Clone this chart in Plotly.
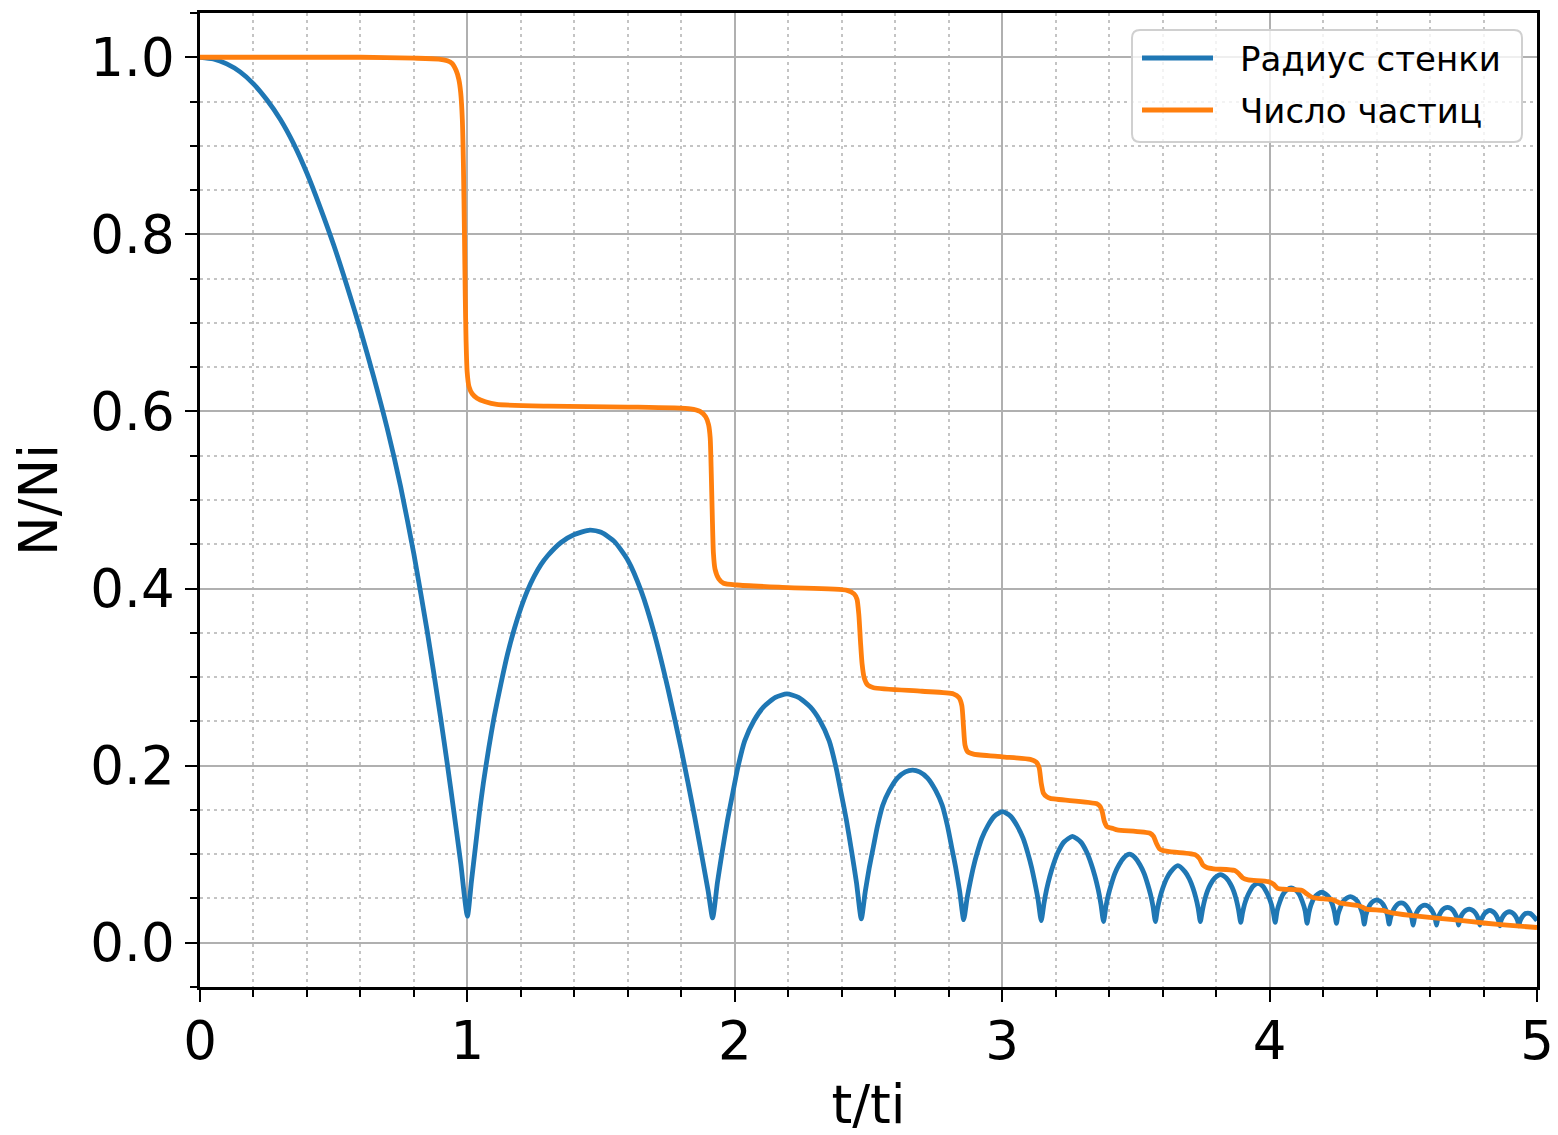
import plotly.graph_objects as go

# Wall radius (normalised) versus normalised time, one row per arch
wall_t = [
    0.000, 0.050, 0.100, 0.150, 0.200, 0.250, 0.300, 0.350, 0.400, 0.450, 0.500, 0.550, 0.600, 0.650, 0.700, 0.750, 0.800, 0.850, 0.900, 0.925, 0.950, 0.975, 1.000,
    1.015, 1.030, 1.045, 1.060, 1.080, 1.100, 1.125, 1.150, 1.175, 1.200, 1.225, 1.250, 1.275, 1.300, 1.350, 1.400, 1.458, 1.500, 1.550, 1.600, 1.650, 1.700, 1.750, 1.800, 1.850, 1.900, 1.917,
    1.935, 1.953, 1.973, 1.993, 2.010, 2.037, 2.072, 2.107, 2.152, 2.195, 2.238, 2.283, 2.318, 2.353, 2.380, 2.397, 2.417, 2.437, 2.455, 2.473,
    2.488, 2.503, 2.518, 2.533, 2.553, 2.578, 2.608, 2.638, 2.665, 2.691, 2.721, 2.751, 2.776, 2.796, 2.811, 2.826, 2.841, 2.856,
    2.868, 2.880, 2.892, 2.906, 2.924, 2.946, 2.971, 3.001, 3.031, 3.056, 3.078, 3.096, 3.110, 3.122, 3.134, 3.146,
    3.156, 3.166, 3.178, 3.192, 3.210, 3.232, 3.2625, 3.293, 3.315, 3.333, 3.347, 3.359, 3.369, 3.379,
    3.388, 3.397, 3.408, 3.421, 3.437, 3.455, 3.476, 3.497, 3.515, 3.531, 3.544, 3.555, 3.564, 3.573,
    3.581, 3.590, 3.601, 3.614, 3.630, 3.657, 3.684, 3.700, 3.713, 3.724, 3.733, 3.741,
    3.749, 3.757, 3.767, 3.779, 3.795, 3.8165, 3.838, 3.854, 3.866, 3.876, 3.884, 3.892,
    3.899, 3.906, 3.915, 3.926, 3.939, 3.9565, 3.974, 3.987, 3.998, 4.007, 4.014, 4.021,
    4.028, 4.038, 4.051, 4.066, 4.0805, 4.095, 4.110, 4.123, 4.133, 4.140,
    4.147, 4.155, 4.167, 4.181, 4.195, 4.209, 4.223, 4.235, 4.243, 4.250,
    4.256, 4.265, 4.276, 4.289, 4.302, 4.315, 4.328, 4.339, 4.348, 4.354,
    4.360, 4.367, 4.377, 4.389, 4.4005, 4.412, 4.424, 4.434, 4.441, 4.447,
    4.453, 4.460, 4.470, 4.481, 4.492, 4.503, 4.514, 4.524, 4.531, 4.537,
    4.542, 4.549, 4.559, 4.570, 4.5805, 4.591, 4.602, 4.612, 4.619, 4.624,
    4.629, 4.636, 4.645, 4.655, 4.6655, 4.676, 4.686, 4.695, 4.702, 4.707,
    4.712, 4.718, 4.727, 4.737, 4.7465, 4.756, 4.766, 4.775, 4.781, 4.786,
    4.790, 4.797, 4.805, 4.814, 4.8235, 4.833, 4.842, 4.850, 4.856, 4.861,
    4.865, 4.871, 4.879, 4.888, 4.8965, 4.905, 4.914, 4.922, 4.928, 4.932,
    4.936, 4.942, 4.949, 4.957, 4.966, 4.975, 4.983, 4.992, 5.000,
]
wall_r = [
    1.000, 0.998, 0.9925, 0.9835, 0.970, 0.952, 0.930, 0.9025, 0.869, 0.830, 0.788, 0.7415, 0.692, 0.6385, 0.581, 0.5155, 0.4387, 0.3512, 0.2537, 0.2015, 0.1467, 0.090, 0.030,
    0.069, 0.108, 0.147, 0.181, 0.220, 0.255, 0.292, 0.326, 0.354, 0.378, 0.398, 0.414, 0.427, 0.437, 0.452, 0.461, 0.466, 0.4635, 0.453, 0.432, 0.397, 0.348, 0.287, 0.218, 0.142, 0.059, 0.028,
    0.068, 0.103, 0.139, 0.170, 0.196, 0.228, 0.251, 0.266, 0.277, 0.281, 0.277, 0.266, 0.251, 0.228, 0.196, 0.170, 0.139, 0.103, 0.068, 0.027,
    0.058, 0.085, 0.108, 0.131, 0.155, 0.172, 0.186, 0.193, 0.195, 0.193, 0.186, 0.172, 0.155, 0.131, 0.108, 0.085, 0.058, 0.026,
    0.049, 0.068, 0.085, 0.101, 0.118, 0.132, 0.143, 0.148, 0.143, 0.132, 0.118, 0.101, 0.085, 0.068, 0.049, 0.025,
    0.044, 0.060, 0.075, 0.089, 0.103, 0.114, 0.120, 0.114, 0.103, 0.089, 0.075, 0.060, 0.044, 0.024,
    0.041, 0.054, 0.066, 0.078, 0.088, 0.096, 0.100, 0.096, 0.088, 0.078, 0.066, 0.054, 0.041, 0.024,
    0.039, 0.051, 0.062, 0.072, 0.080, 0.087, 0.080, 0.072, 0.062, 0.051, 0.039, 0.024,
    0.037, 0.048, 0.058, 0.066, 0.073, 0.077, 0.073, 0.066, 0.058, 0.048, 0.037, 0.023,
    0.034, 0.043, 0.051, 0.058, 0.064, 0.067, 0.064, 0.058, 0.051, 0.043, 0.034, 0.023,
    0.036, 0.046, 0.055, 0.060, 0.062, 0.060, 0.055, 0.046, 0.036, 0.022,
    0.034, 0.043, 0.051, 0.055, 0.057, 0.055, 0.051, 0.043, 0.034, 0.022,
    0.032, 0.040, 0.047, 0.0505, 0.052, 0.0505, 0.047, 0.040, 0.032, 0.021,
    0.031, 0.0375, 0.0435, 0.047, 0.0485, 0.047, 0.0435, 0.0375, 0.031, 0.021,
    0.029, 0.035, 0.0405, 0.044, 0.045, 0.044, 0.0405, 0.035, 0.029, 0.020,
    0.028, 0.0335, 0.0385, 0.0415, 0.0425, 0.0415, 0.0385, 0.0335, 0.028, 0.020,
    0.027, 0.032, 0.0365, 0.039, 0.040, 0.039, 0.0365, 0.032, 0.027, 0.020,
    0.0265, 0.031, 0.0348, 0.037, 0.038, 0.037, 0.0348, 0.031, 0.0265, 0.020,
    0.025, 0.0295, 0.0333, 0.0355, 0.0365, 0.0355, 0.0333, 0.0295, 0.025, 0.019,
    0.0245, 0.0288, 0.0322, 0.0342, 0.035, 0.0342, 0.0322, 0.0288, 0.0245, 0.019,
    0.024, 0.028, 0.031, 0.033, 0.0335, 0.033, 0.031, 0.028, 0.025,
]

# Particle number (normalised) versus normalised time
part_t = [
    0.000, 0.300, 0.600, 0.800, 0.893, 0.925, 0.943, 0.958, 0.968, 0.975,
    0.981, 0.985, 0.989, 0.992, 0.995, 0.999, 1.006, 1.018, 1.036, 1.067,
    1.110, 1.300, 1.600, 1.834, 1.870, 1.891, 1.902, 1.908, 1.912, 1.916,
    1.920, 1.926, 1.940, 1.958, 2.008, 2.200, 2.420, 2.446, 2.457, 2.464,
    2.470, 2.476, 2.484, 2.497, 2.519, 2.700, 2.818, 2.838, 2.849, 2.855,
    2.861, 2.870, 2.893, 3.000, 3.105, 3.127, 3.138, 3.146, 3.154, 3.166,
    3.180, 3.354, 3.366, 3.374, 3.382, 3.392, 3.415, 3.430, 3.553, 3.566,
    3.577, 3.588, 3.602, 3.625, 3.721, 3.738, 3.750, 3.765, 3.790, 3.870,
    3.885, 3.900, 3.920, 3.995, 4.015, 4.030, 4.050, 4.122, 4.140, 4.157,
    4.180, 4.232, 4.248, 4.262, 4.330, 4.348, 4.362, 4.424, 4.440, 4.462,
    4.562, 4.686, 4.810, 4.900, 5.000,
]
part_n = [
    1.000, 1.000, 1.000, 0.999, 0.998, 0.996, 0.993, 0.985, 0.975, 0.960,
    0.930, 0.880, 0.800, 0.730, 0.680, 0.645, 0.628, 0.620, 0.615, 0.611,
    0.608, 0.606, 0.605, 0.603, 0.600, 0.594, 0.585, 0.570, 0.530, 0.480,
    0.440, 0.422, 0.411, 0.406, 0.404, 0.401, 0.398, 0.394, 0.388, 0.370,
    0.340, 0.315, 0.299, 0.291, 0.288, 0.284, 0.281, 0.277, 0.268, 0.245,
    0.223, 0.216, 0.213, 0.210, 0.207, 0.204, 0.198, 0.180, 0.169, 0.165,
    0.163, 0.157, 0.154, 0.148, 0.137, 0.131, 0.129, 0.1275, 0.1237, 0.120,
    0.112, 0.106, 0.104, 0.103, 0.0995, 0.095, 0.088, 0.085, 0.0835, 0.0815,
    0.078, 0.073, 0.071, 0.069, 0.066, 0.0615, 0.0605, 0.059, 0.055, 0.0515,
    0.050, 0.049, 0.047, 0.045, 0.042, 0.040, 0.038, 0.0365, 0.035, 0.0335,
    0.0297, 0.0260, 0.0220, 0.0195, 0.0172,
]

x_ticks = [0, 1, 2, 3, 4, 5]
y_ticks = [0.0, 0.2, 0.4, 0.6, 0.8, 1.0]
series_names = ["Радиус стенки", "Число частиц"]

FONT = "DejaVu Sans"
BLUE = "#1f77b4"
ORANGE = "#ff7f0e"
LINE_W = 4.8

assert len(wall_t) == len(wall_r)
assert len(part_t) == len(part_n)

fig = go.Figure()
fig.add_trace(go.Scatter(
    x=wall_t, y=wall_r, mode="lines", name=series_names[0], showlegend=False,
    line=dict(color=BLUE, width=LINE_W, shape="spline", smoothing=0.6, simplify=False),
))
fig.add_trace(go.Scatter(
    x=part_t, y=part_n, mode="lines", name=series_names[1], showlegend=False,
    line=dict(color=ORANGE, width=LINE_W, shape="spline", smoothing=0.6, simplify=False),
))

axis_style = dict(
    showline=True, linecolor="black", linewidth=2.5, mirror=True,
    ticks="outside", ticklen=12, tickwidth=2.2, tickcolor="black",
    showgrid=True, gridcolor="#b0b0b0", gridwidth=2, zeroline=False,
    tickfont=dict(family=FONT, size=53, color="black"),
    title_font=dict(family=FONT, size=53, color="black"),
)
minor_style = dict(ticks="outside", ticklen=7, tickwidth=1.8, tickcolor="black",
                   showgrid=True, gridcolor="#c4c4c4", gridwidth=1.5,
                   griddash="3px,4px")

fig.update_xaxes(
    **axis_style,
    range=[0, 5], tickvals=x_ticks, ticktext=[str(v) for v in x_ticks],
    ticklabelstandoff=-6,
    title=dict(text="t/ti", standoff=22),
    minor=dict(dtick=0.2, tick0=0, **minor_style),
)
fig.update_yaxes(
    **axis_style,
    range=[-0.05, 1.05], tickvals=y_ticks,
    ticktext=[f"{v:.1f}" for v in y_ticks],
    title=dict(text="N/Ni", standoff=16),
    minor=dict(dtick=0.05, tick0=0, **minor_style),
)

# Legend box drawn in paper coordinates (plot area: 1337 x 974 px)
PW, PH = 1337.0, 974.0
def px_x(px):
    return (px - 200.0) / PW
def px_y(py):
    return 1.0 - (py - 13.0) / PH

bx0, bx1 = px_x(1132), px_x(1522)
by1, by0 = px_y(30), px_y(142)
rx, ry = 8 / PW, 8 / PH
box_path = (
    f"M {bx0 + rx},{by1} L {bx1 - rx},{by1} Q {bx1},{by1} {bx1},{by1 - ry} "
    f"L {bx1},{by0 + ry} Q {bx1},{by0} {bx1 - rx},{by0} "
    f"L {bx0 + rx},{by0} Q {bx0},{by0} {bx0},{by0 + ry} "
    f"L {bx0},{by1 - ry} Q {bx0},{by1} {bx0 + rx},{by1} Z"
)
shapes = [dict(type="path", path=box_path, xref="paper", yref="paper",
               fillcolor="rgba(255,255,255,0.8)",
               line=dict(color="#d0d0d0", width=2), layer="above")]
annotations = []
for name, color, py in [(series_names[0], BLUE, 58), (series_names[1], ORANGE, 110)]:
    shapes.append(dict(type="line", xref="paper", yref="paper",
                       x0=px_x(1142), x1=px_x(1213), y0=px_y(py), y1=px_y(py),
                       line=dict(color=color, width=LINE_W), layer="above"))
    annotations.append(dict(text=name, xref="paper", yref="paper",
                            x=px_x(1238), y=px_y(py + 1), xanchor="left",
                            yanchor="middle", showarrow=False,
                            font=dict(family=FONT, size=34, color="black")))

fig.update_layout(
    width=1558, height=1135,
    margin=dict(l=200, r=21, t=13, b=148, autoexpand=False),
    paper_bgcolor="white", plot_bgcolor="white",
    font=dict(family=FONT, color="black"),
    showlegend=False,
    shapes=shapes,
    annotations=annotations,
)

fig.write_html("out.html")
